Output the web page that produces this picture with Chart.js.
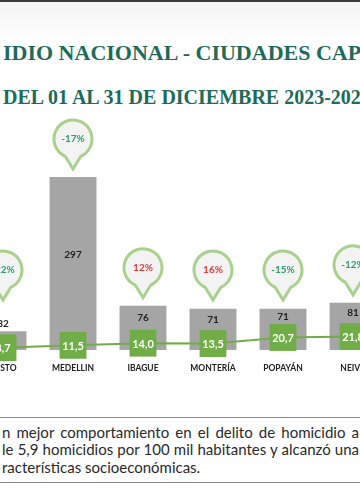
<!DOCTYPE html>
<html>
<head>
<meta charset="utf-8">
<script src="https://cdn.jsdelivr.net/npm/chart.js@4/dist/chart.umd.min.js"></script>
<style>
  html, body { margin:0; padding:0; }
  body { width:360px; height:504px; overflow:hidden; position:relative;
         background: linear-gradient(to bottom, #f4f4f4 0px, #ffffff 45px); font-family:"Lato", sans-serif; }
  #topbar { position:absolute; left:0; top:0; width:360px; height:2px; background:#3c3c3c; }
  .title { position:absolute; left:3px; white-space:nowrap; font-family:"Liberation Serif", serif; font-weight:bold; color:#1d6b5b; }
  #t1 { top:39px; font-size:22px; line-height:28px; }
  #t2 { top:84px; font-size:20px; line-height:26px; }
  #chartWrap { position:absolute; left:-32px; top:110px; width:420px; height:262px; }
  #note { position:absolute; left:0; top:417px; width:360px; height:64px;
          border-top:1.5px solid #8a8a8a; border-bottom:1.5px solid #8a8a8a; }
  .line { position:absolute; left:2px; width:357px; font-size:15px; line-height:18px; color:#2a2a2a; white-space:nowrap; }
  .just { text-align:justify; text-align-last:justify; }
</style>
</head>
<body>
<div id="topbar"></div>
<div class="title" id="t1">IDIO NACIONAL - CIUDADES CAPITALES</div>
<div class="title" id="t2">DEL 01 AL 31 DE DICIEMBRE 2023-2024</div>
<div id="chartWrap"><canvas id="chart" width="420" height="262"></canvas></div>
<div id="note">
  <div class="line just" style="top:5px">n mejor comportamiento en el delito de homicidio a</div>
  <div class="line just" style="top:22px">le 5,9 homicidios por 100 mil habitantes y alcanzó una</div>
  <div class="line" style="top:40px">racterísticas socioeconómicas.</div>
</div>
<script>
// ---------- DATA ----------
const CIUDADES = ["PASTO","MEDELLIN","IBAGUE","MONTERÍA","POPAYÁN","NEIVA"];
const HOMICIDIOS = [32, 297, 76, 71, 71, 81];
const TASAS = [8.7, 11.5, 14.0, 13.5, 20.7, 21.8];
const VARIACION = [-22, -17, 12, 16, -15, -12];

const GRAY = "#a5a5a5";
const GREEN = "#70ad47";

const fmt = v => v.toFixed(1).replace(".", ",");

// ---------- LABELS + BUBBLES ----------
const labelsPlugin = {
  id: "labels",
  afterDatasetsDraw(chart) {
    const ctx = chart.ctx;
    const bars = chart.getDatasetMeta(0).data;
    const pts = chart.getDatasetMeta(1).data;
    ctx.save();
    ctx.textAlign = "center";
    ctx.textBaseline = "middle";

    bars.forEach((bar, i) => {
      const sqTop = pts[i].y - 13;
      // bar value
      let ly;
      if (bar.base - bar.y < 24) ly = bar.y - 8;
      else ly = Math.min((bar.y + sqTop) / 2, sqTop - 6);
      ctx.fillStyle = "#222";
      ctx.font = "bold 10px Lato";
      ctx.fillText(HOMICIDIOS[i], bar.x, ly);

      // rate inside square
      ctx.fillStyle = "#fff";
      ctx.font = "bold 11px Lato";
      ctx.fillText(fmt(TASAS[i]), pts[i].x, pts[i].y + 1);

      // bubble
      const tipY = Math.min(bar.y - 8, 190);
      const r = 19, cx = bar.x, cy = tipY - 30, a = 0.42;
      ctx.beginPath();
      ctx.arc(cx, cy, r, Math.PI / 2 + a, Math.PI / 2 - a + 2 * Math.PI);
      ctx.lineTo(cx, tipY);
      ctx.closePath();
      ctx.fillStyle = "#f3f3f3";
      ctx.fill();
      ctx.lineWidth = 3;
      ctx.strokeStyle = "#a9d18e";
      ctx.stroke();
      const v = VARIACION[i];
      ctx.fillStyle = v < 0 ? "#2f9e6b" : "#e03a3e";
      ctx.font = "bold 10px Lato";
      ctx.fillText(v + "%", cx, cy);
    });
    ctx.restore();
  }
};

// ---------- CHART ----------
new Chart(document.getElementById("chart"), {
  data: {
    labels: CIUDADES,
    datasets: [
      { type:"bar", data:HOMICIDIOS, backgroundColor:GRAY, yAxisID:"y",
        categoryPercentage:1, barPercentage:0.67, order:1 },
      { type:"line", data:TASAS, yAxisID:"y1", borderColor:GREEN, borderWidth:2,
        pointStyle:"rect", pointRadius:19, pointBackgroundColor:GREEN, pointBorderWidth:0,
        tension:0, order:0, clip:false }
    ]
  },
  options: {
    responsive:false,
    animation:false,
    layout:{ padding:0, autoPadding:false },
    plugins:{ legend:{ display:false }, tooltip:{ enabled:false } },
    scales:{
      x:{ grid:{ display:false }, border:{ display:false },
          ticks:{ color:"#222", font:{ family:"Lato", weight:"bold", size:8.5 }, padding:5, maxRotation:0, autoSkip:false },
          afterFit: s => { s.height = 22; } },
      y:{ display:false, min:0, max:412 },
      y1:{ display:false, min:6, max:288 }
    }
  },
  plugins:[labelsPlugin]
});
</script>
</body>
</html>
